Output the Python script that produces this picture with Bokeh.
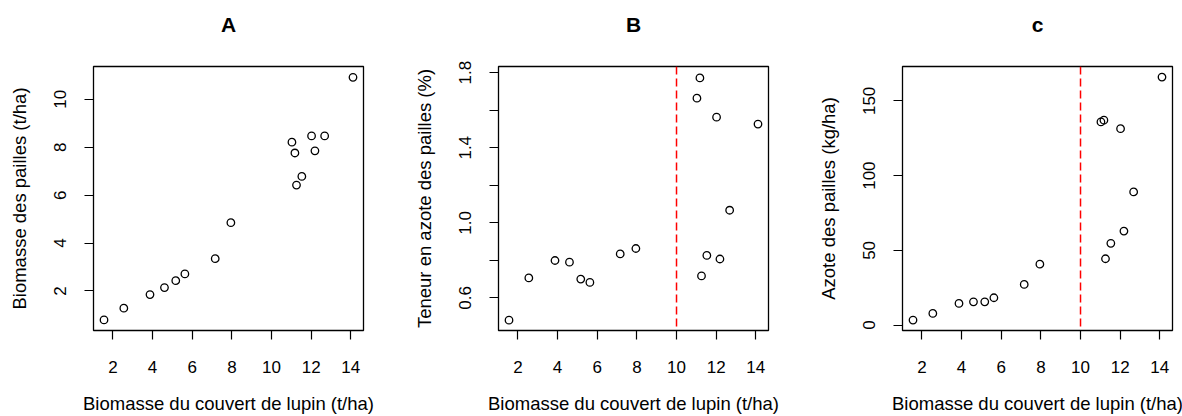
from bokeh.plotting import figure
from bokeh.layouts import row
from bokeh.models import FixedTicker, Span, PrintfTickFormatter, Title
from bokeh.embed import file_html
from bokeh.resources import INLINE

# ---- data ----
lupin_biomass = [1.55, 2.55, 3.87, 4.60, 5.17, 5.63, 7.16, 7.95,
                 11.03, 11.18, 11.26, 11.53, 12.02, 12.19, 12.68, 14.11]
straw_biomass = [0.79, 1.28, 1.85, 2.14, 2.43, 2.71, 3.35, 4.85,
                 8.21, 7.76, 6.42, 6.78, 8.47, 7.85, 8.47, 10.92]
straw_n_content = [0.481, 0.706, 0.799, 0.790, 0.700, 0.682, 0.834, 0.863,
                   1.664, 1.772, 0.717, 0.826, 1.563, 0.807, 1.067, 1.526]
straw_n = [3.4, 7.8, 14.5, 15.6, 15.6, 18.3, 27.2, 40.8,
           135.9, 137.1, 44.4, 54.7, 131.4, 62.9, 89.1, 165.9]
threshold = 10

x_ticks = [2, 4, 6, 8, 10, 12, 14]
a_y_ticks = [2, 4, 6, 8, 10]
b_y_ticks = [0.6, 1.0, 1.4, 1.8]
b_y_minor = [0.8, 1.2, 1.6]
c_y_ticks = [0, 50, 100, 150]

titles = ["A", "B", "c"]
x_label = "Biomasse du couvert de lupin (t/ha)"
y_labels = ["Biomasse des pailles (t/ha)",
            "Teneur en azote des pailles (%)",
            "Azote des pailles (kg/ha)"]

FONT = "Liberation Sans"
X_RANGE = (1.02, 14.64)


def make_panel(title, y, y_label, y_range, y_ticks, y_minor, width, left, right,
               vline, y_format=None):
    p = figure(width=width, height=416, output_backend="svg", toolbar_location=None,
               x_range=X_RANGE, y_range=y_range,
               min_border_left=left, min_border_right=right,
               min_border_top=66, min_border_bottom=85)
    # invisible spacer panel between frame and title (pushes title upward)
    p.add_layout(Title(text=" ", text_font_size="1px", standoff=28), "above")
    p.add_layout(Title(text=title, align="center", standoff=0,
                       text_font=FONT, text_font_size="21px",
                       text_font_style="bold", text_color="#000000"), "above")
    p.background_fill_color = "white"
    p.border_fill_color = "white"
    p.outline_line_color = "black"
    p.outline_line_width = 1.3
    p.xgrid.visible = False
    p.ygrid.visible = False

    p.xaxis.ticker = FixedTicker(ticks=x_ticks)
    p.yaxis.ticker = FixedTicker(ticks=y_ticks, minor_ticks=y_minor)
    if y_format:
        p.yaxis.formatter = PrintfTickFormatter(format=y_format)
    for ax in (p.xaxis[0], p.yaxis[0]):
        ax.axis_line_color = None
        ax.major_tick_in = 0
        ax.major_tick_out = 9
        ax.minor_tick_in = 0
        ax.minor_tick_out = 9
        ax.major_tick_line_color = "black"
        ax.minor_tick_line_color = "black"
        ax.major_tick_line_width = 1.2
        ax.minor_tick_line_width = 1.2
        ax.major_label_text_font = FONT
        ax.major_label_text_font_size = "17px"
        ax.major_label_text_color = "#000000"
        ax.axis_label_text_font = FONT
        ax.axis_label_text_font_size = "18.5px"
        ax.axis_label_text_font_style = "normal"
        ax.axis_label_text_color = "#000000"
    p.xaxis.major_label_standoff = 21
    p.xaxis.axis_label_standoff = 17
    p.yaxis.major_label_standoff = 18
    p.yaxis.axis_label_standoff = 22
    p.yaxis.major_label_orientation = "vertical"
    p.xaxis.axis_label = x_label
    p.yaxis.axis_label = y_label

    if vline:
        p.add_layout(Span(location=threshold, dimension="height",
                          line_color="#FF0000", line_width=1.5, line_dash="8 4"))

    p.scatter(lupin_biomass, y, marker="circle", size=7.5,
              fill_color=None, line_color="black", line_width=1.3)
    return p


pa = make_panel(titles[0], straw_biomass, y_labels[0], (0.35, 11.37),
                a_y_ticks, [], 405, 93, 42, False)
pb = make_panel(titles[1], straw_n_content, y_labels[1], (0.426, 1.833),
                b_y_ticks, b_y_minor, 405, 93, 42, True, "%.1f")
pc = make_panel(titles[2], straw_n, y_labels[2], (-3.6, 173.0),
                c_y_ticks, [], 372, 92, 10, True)

layout = row(pa, pb, pc, spacing=0)
open("out.html", "w").write(file_html(layout, INLINE))
